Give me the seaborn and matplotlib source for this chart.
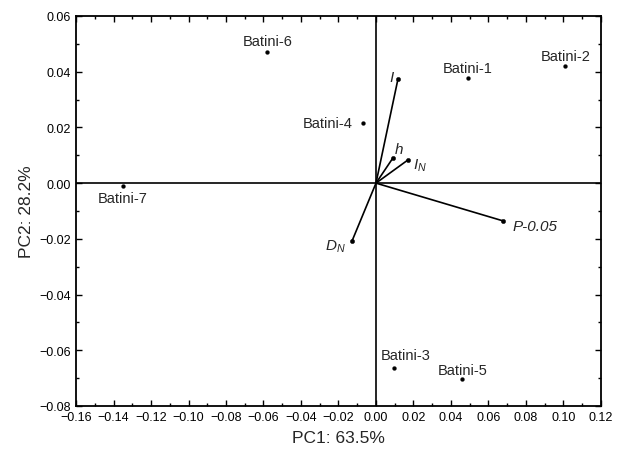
import numpy as np
import pandas as pd
import matplotlib
matplotlib.use("Agg")
import matplotlib.pyplot as plt
import seaborn as sns
from matplotlib.ticker import MultipleLocator, FuncFormatter

# ----------------------------------------------------------
# DATA
# ----------------------------------------------------------
sample_names = ["Batini-1", "Batini-2", "Batini-3", "Batini-4",
                "Batini-5", "Batini-6", "Batini-7"]
sample_pc1 = [0.049, 0.101, 0.0096, -0.007, 0.046, -0.058, -0.135]
sample_pc2 = [0.0377, 0.042, -0.0664, 0.0215, -0.0704, 0.047, -0.001]

vector_names = ["I", "h", r"$I_N$", "P-0.05", r"$D_N$"]
vector_pc1 = [0.0117, 0.009, 0.017, 0.068, -0.0128]
vector_pc2 = [0.0373, 0.009, 0.0083, -0.0136, -0.0208]

# label offsets in pixels (layout only)
sample_offsets = [(0, 10, "center"), (0, 10, "center"), (12, 13, "center"),
                  (-10, 0, "right"), (0, 9, "center"), (0, 11, "center"),
                  (0, -12, "center")]
vector_offsets = [(-4, 2, "right"), (6, 9, "center"), (5, -5, "left"),
                  (9, -5, "left"), (-6, -5, "right")]

samples = pd.DataFrame({"name": sample_names, "PC1": sample_pc1, "PC2": sample_pc2})
vectors = pd.DataFrame({"name": vector_names, "PC1": vector_pc1, "PC2": vector_pc2})

# ----------------------------------------------------------
# STYLE
# ----------------------------------------------------------
sns.set_style("ticks")
plt.rcParams["font.family"] = ["Liberation Sans", "DejaVu Sans"]
plt.rcParams["mathtext.fontset"] = "custom"
plt.rcParams["mathtext.rm"] = "Liberation Sans"
plt.rcParams["mathtext.it"] = "Liberation Sans:italic"

fig = plt.figure(figsize=(6.22, 4.52), dpi=100)
ax = fig.add_axes([0.1222, 0.0996, 0.844, 0.8628])

ax.axhline(0, color="black", lw=1.2, zorder=1)
ax.axvline(0, color="black", lw=1.2, zorder=1)

# loading vectors
for x, y in zip(vectors["PC1"], vectors["PC2"]):
    ax.plot([0, x], [0, y], color="black", lw=1.2, zorder=2)

sns.scatterplot(data=vectors, x="PC1", y="PC2", ax=ax, color="black",
                s=10, edgecolor=None, zorder=3)
sns.scatterplot(data=samples, x="PC1", y="PC2", ax=ax, color="black",
                s=8, edgecolor=None, zorder=3)

for (_, r), (dx, dy, ha) in zip(samples.iterrows(), sample_offsets):
    ax.annotate(r["name"], (r["PC1"], r["PC2"]), xytext=(dx, dy),
                textcoords="offset pixels", ha=ha, va="center", fontsize=10.5)

for (_, r), (dx, dy, ha) in zip(vectors.iterrows(), vector_offsets):
    ax.annotate(r["name"], (r["PC1"], r["PC2"]), xytext=(dx, dy),
                textcoords="offset pixels", ha=ha, va="center", fontsize=11,
                fontstyle="italic")

fmt = FuncFormatter(lambda v, p: f"{v:.2f}".replace("-", "\u2212")
                    if abs(v) > 1e-9 else "0.00")

ax.set_xlim(-0.16, 0.12)
ax.set_ylim(-0.08, 0.06)
ax.xaxis.set_major_locator(MultipleLocator(0.02))
ax.xaxis.set_minor_locator(MultipleLocator(0.01))
ax.yaxis.set_major_locator(MultipleLocator(0.02))
ax.yaxis.set_minor_locator(MultipleLocator(0.01))
ax.xaxis.set_major_formatter(fmt)
ax.yaxis.set_major_formatter(fmt)
ax.tick_params(which="both", direction="in", top=True, right=True,
               labelsize=9, width=1, colors="black")
ax.tick_params(which="major", length=4)
ax.tick_params(which="minor", length=2)
for s in ax.spines.values():
    s.set_visible(True)
    s.set_linewidth(1.3)
    s.set_color("black")

ax.set_xlabel("PC1: 63.5%", fontsize=12.5, labelpad=5)
ax.set_ylabel("PC2: 28.2%", fontsize=12.5, labelpad=4)

fig.savefig("out.png", dpi=100)
